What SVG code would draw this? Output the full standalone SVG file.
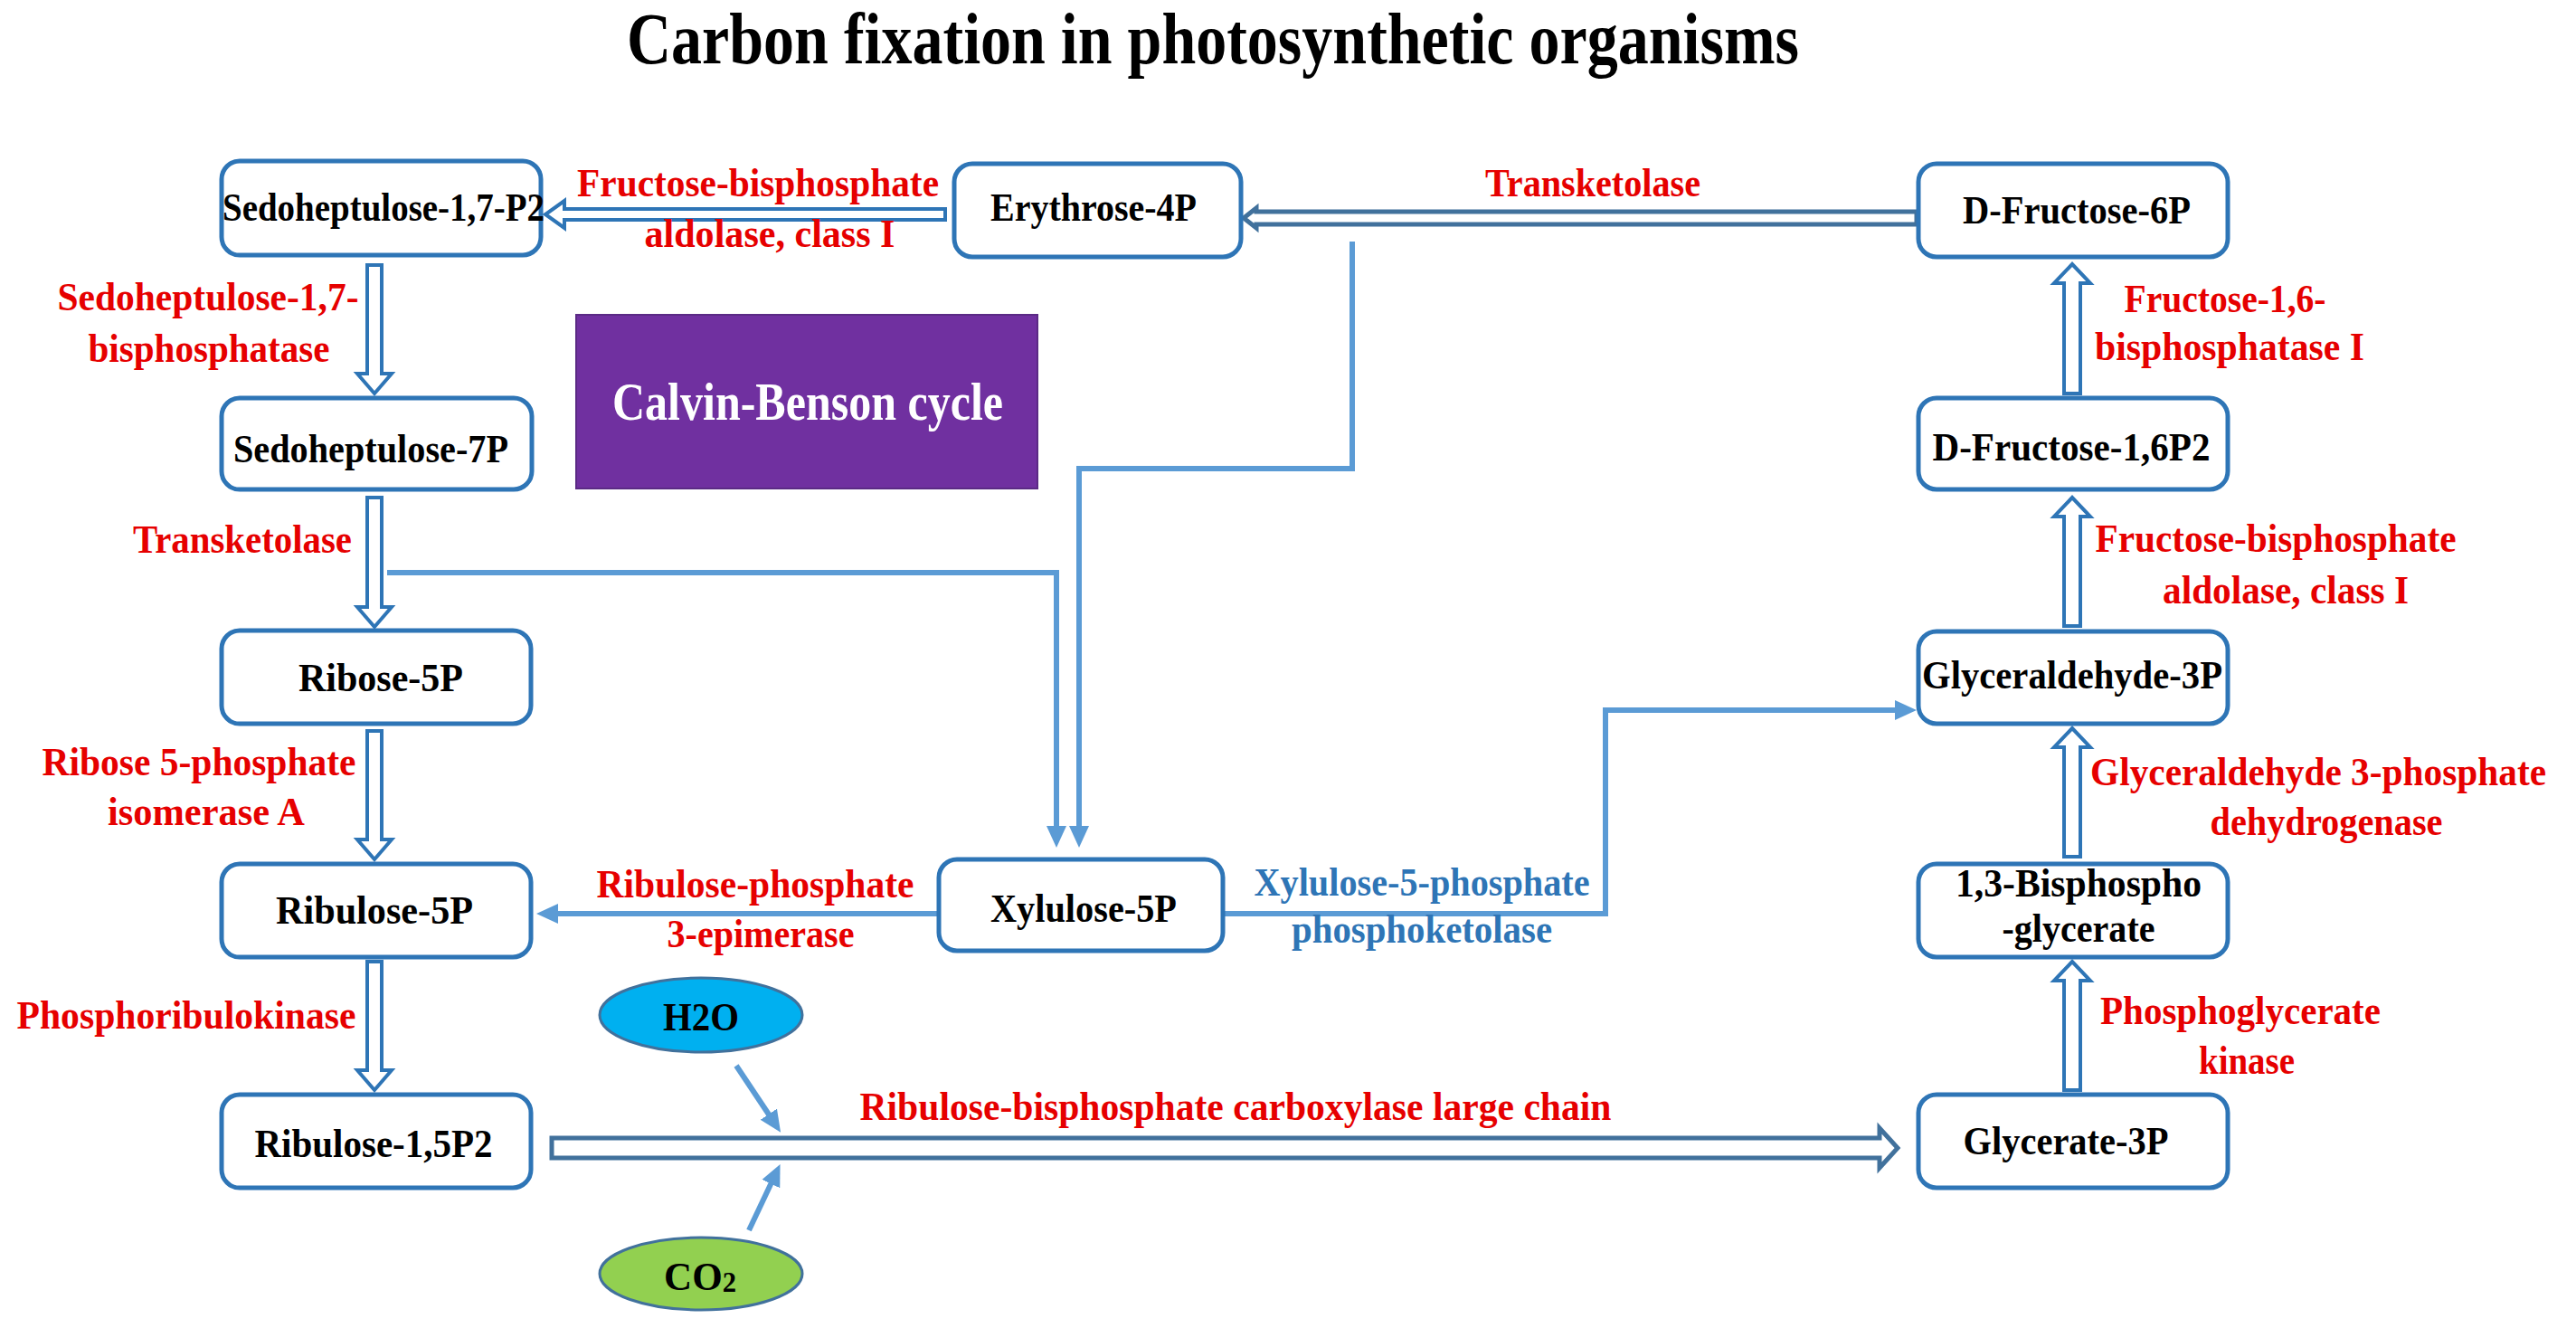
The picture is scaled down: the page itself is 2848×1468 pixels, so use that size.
<svg xmlns="http://www.w3.org/2000/svg" width="2848" height="1468" viewBox="0 0 2848 1468">
<style>
.box{fill:#fff;stroke:#2e75b6;stroke-width:5}
.nl{font-family:"Liberation Serif","Times New Roman",serif;font-weight:bold;font-size:45px;fill:#000;text-anchor:middle}
.el{font-family:"Liberation Serif","Times New Roman",serif;font-weight:bold;font-size:44px;fill:#e60000;text-anchor:middle}
.bl{font-family:"Liberation Serif","Times New Roman",serif;font-weight:bold;font-size:44px;fill:#2e75b6;text-anchor:middle}
.conn{fill:none;stroke:#5b9bd5;stroke-width:6}
.hollow{fill:#fff;stroke:#2e75b6;stroke-width:4}
.dbl{fill:#fff;stroke:#41719c;stroke-width:5}
</style>
<defs>
<marker id="ah" markerUnits="userSpaceOnUse" markerWidth="26" markerHeight="24" refX="4" refY="12" orient="auto" viewBox="0 0 26 24"><path d="M0,1 L24,12 L0,23 z" fill="#5b9bd5"/></marker>
</defs>
<rect width="2848" height="1468" fill="#fff"/>
<text id="title" x="1341" y="70" font-family="Liberation Serif, Times New Roman, serif" font-weight="bold" font-size="80" text-anchor="middle" textLength="1296" lengthAdjust="spacingAndGlyphs">Carbon fixation in photosynthetic organisms</text>

<g id="connectors">
<polygon class="hollow" points="1045,231 624,231 624,222 603,237 624,252 624,243 1045,243"/>
<polygon class="dbl" points="2119,234 1389,234 1389,230 1375,241 1389,252 1389,248 2119,248"/>
<polygon class="dbl" points="610,1258 2078,1258 2078,1247 2098,1269 2078,1291 2078,1280 610,1280"/>
<polygon class="hollow" points="406,293 422,293 422,413 433,413 414,435 395,413 406,413"/>
<polygon class="hollow" points="406,550 422,550 422,671 433,671 414,693 395,671 406,671"/>
<polygon class="hollow" points="406,808 422,808 422,928 433,928 414,950 395,928 406,928"/>
<polygon class="hollow" points="406,1063 422,1063 422,1183 433,1183 414,1205 395,1183 406,1183"/>
<polygon class="hollow" points="2282,1205 2300,1205 2300,1084 2311,1084 2291,1063 2271,1084 2282,1084"/>
<polygon class="hollow" points="2282,947 2300,947 2300,826 2311,826 2291,805 2271,826 2282,826"/>
<polygon class="hollow" points="2282,692 2300,692 2300,571 2311,571 2291,550 2271,571 2282,571"/>
<polygon class="hollow" points="2282,435 2300,435 2300,313 2311,313 2291,292 2271,313 2282,313"/>
<path class="conn" d="M428,633 H1168 V917" marker-end="url(#ah)"/>
<path class="conn" d="M1495,267 V518 H1193 V917" marker-end="url(#ah)"/>
<path class="conn" d="M1038,1010 H613" marker-end="url(#ah)"/>
<path class="conn" d="M1351,1010 H1775 V785 H2099" marker-end="url(#ah)"/>
<path class="conn" d="M814,1178 L852,1235" marker-end="url(#ah)"/>
<path class="conn" d="M828,1360 L854,1305" marker-end="url(#ah)"/>
</g>

<g id="labels">
<text class="el" x="838" y="217" textLength="400" lengthAdjust="spacingAndGlyphs">Fructose-bisphosphate</text>
<text class="el" x="851" y="273" textLength="277" lengthAdjust="spacingAndGlyphs">aldolase, class I</text>
<text class="el" x="1761" y="217" textLength="238" lengthAdjust="spacingAndGlyphs">Transketolase</text>
<text class="el" x="230" y="343" textLength="333" lengthAdjust="spacingAndGlyphs">Sedoheptulose-1,7-</text>
<text class="el" x="231" y="400" textLength="267" lengthAdjust="spacingAndGlyphs">bisphosphatase</text>
<text class="el" x="268" y="611" textLength="242" lengthAdjust="spacingAndGlyphs">Transketolase</text>
<text class="el" x="220" y="857" textLength="347" lengthAdjust="spacingAndGlyphs">Ribose 5-phosphate</text>
<text class="el" x="228" y="912" textLength="218" lengthAdjust="spacingAndGlyphs">isomerase  A</text>
<text class="el" x="835" y="992" textLength="351" lengthAdjust="spacingAndGlyphs">Ribulose-phosphate</text>
<text class="el" x="841" y="1047" textLength="207" lengthAdjust="spacingAndGlyphs">3-epimerase</text>
<text class="el" x="206" y="1137" textLength="375" lengthAdjust="spacingAndGlyphs">Phosphoribulokinase</text>
<text class="el" x="1366" y="1238" textLength="831" lengthAdjust="spacingAndGlyphs">Ribulose-bisphosphate carboxylase  large chain</text>
<text class="el" x="2460" y="345" textLength="223" lengthAdjust="spacingAndGlyphs">Fructose-1,6-</text>
<text class="el" x="2465" y="398" textLength="298" lengthAdjust="spacingAndGlyphs">bisphosphatase I</text>
<text class="el" x="2516" y="610" textLength="399" lengthAdjust="spacingAndGlyphs">Fructose-bisphosphate</text>
<text class="el" x="2527" y="667" textLength="272" lengthAdjust="spacingAndGlyphs">aldolase, class I</text>
<text class="el" x="2563" y="868" textLength="504" lengthAdjust="spacingAndGlyphs">Glyceraldehyde  3-phosphate</text>
<text class="el" x="2572" y="923" textLength="257" lengthAdjust="spacingAndGlyphs">dehydrogenase</text>
<text class="el" x="2477" y="1132" textLength="310" lengthAdjust="spacingAndGlyphs">Phosphoglycerate</text>
<text class="el" x="2484" y="1187" textLength="106" lengthAdjust="spacingAndGlyphs">kinase</text>
<text class="bl" x="1572" y="990" textLength="371" lengthAdjust="spacingAndGlyphs">Xylulose-5-phosphate</text>
<text class="bl" x="1572" y="1042" textLength="288" lengthAdjust="spacingAndGlyphs">phosphoketolase</text>
</g>

<g id="calvin">
<rect x="637" y="348" width="510" height="192" fill="#7030a0" stroke="#5b2a85" stroke-width="2"/>
<text x="893" y="464" font-family="Liberation Serif, Times New Roman, serif" font-weight="bold" font-size="60" fill="#fff" text-anchor="middle" textLength="432" lengthAdjust="spacingAndGlyphs">Calvin-Benson cycle</text>
</g>

<g id="sedo17p2"><rect class="box" x="245" y="178" width="353" height="104" rx="20"/><text class="nl" x="424" y="244" textLength="356" lengthAdjust="spacingAndGlyphs">Sedoheptulose-1,7-P2</text></g>
<g id="erythrose4p"><rect class="box" x="1055" y="181" width="317" height="103" rx="20"/><text class="nl" x="1209" y="244" textLength="228" lengthAdjust="spacingAndGlyphs">Erythrose-4P</text></g>
<g id="fructose6p"><rect class="box" x="2121" y="181" width="342" height="103" rx="20"/><text class="nl" x="2296" y="247" textLength="252" lengthAdjust="spacingAndGlyphs">D-Fructose-6P</text></g>
<g id="sedo7p"><rect class="box" x="245" y="440" width="343" height="101" rx="20"/><text class="nl" x="410" y="511" textLength="304" lengthAdjust="spacingAndGlyphs">Sedoheptulose-7P</text></g>
<g id="fructose16p2"><rect class="box" x="2121" y="440" width="342" height="101" rx="20"/><text class="nl" x="2290" y="509" textLength="307" lengthAdjust="spacingAndGlyphs">D-Fructose-1,6P2</text></g>
<g id="ribose5p"><rect class="box" x="245" y="697" width="342" height="103" rx="20"/><text class="nl" x="421" y="764" textLength="182" lengthAdjust="spacingAndGlyphs">Ribose-5P</text></g>
<g id="g3p"><rect class="box" x="2121" y="698" width="342" height="102" rx="20"/><text class="nl" x="2291" y="761" textLength="332" lengthAdjust="spacingAndGlyphs">Glyceraldehyde-3P</text></g>
<g id="ribulose5p"><rect class="box" x="245" y="955" width="342" height="103" rx="20"/><text class="nl" x="414" y="1021" textLength="218" lengthAdjust="spacingAndGlyphs">Ribulose-5P</text></g>
<g id="xylulose5p"><rect class="box" x="1038" y="950" width="314" height="101" rx="20"/><text class="nl" x="1198" y="1019" textLength="206" lengthAdjust="spacingAndGlyphs">Xylulose-5P</text></g>
<g id="bpg"><rect class="box" x="2121" y="955" width="342" height="103" rx="20"/><text class="nl" x="2298" y="991" textLength="272" lengthAdjust="spacingAndGlyphs">1,3-Bisphospho</text><text class="nl" x="2298" y="1041" textLength="169" lengthAdjust="spacingAndGlyphs">-glycerate</text></g>
<g id="ribulose15p2"><rect class="box" x="245" y="1210" width="342" height="103" rx="20"/><text class="nl" x="413" y="1279" textLength="263" lengthAdjust="spacingAndGlyphs">Ribulose-1,5P2</text></g>
<g id="glycerate3p"><rect class="box" x="2121" y="1210" width="342" height="103" rx="20"/><text class="nl" x="2284" y="1276" textLength="227" lengthAdjust="spacingAndGlyphs">Glycerate-3P</text></g>
<g id="h2o"><ellipse cx="775" cy="1122" rx="112" ry="41" fill="#00b0f0" stroke="#41719c" stroke-width="3"/><text class="nl" x="775" y="1139" textLength="84" lengthAdjust="spacingAndGlyphs">H2O</text></g>
<g id="co2"><ellipse cx="775" cy="1408" rx="112" ry="40" fill="#92d050" stroke="#41719c" stroke-width="3"/><text class="nl" x="774" y="1426" textLength="80" lengthAdjust="spacingAndGlyphs">CO<tspan font-size="32" dy="2">2</tspan></text></g>
</svg>
